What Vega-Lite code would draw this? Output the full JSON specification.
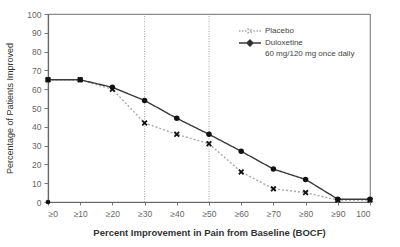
{
  "$schema": "https://vega.github.io/schema/vega-lite/v6.json",
  "autosize": "none",
  "width": 322,
  "height": 188,
  "padding": {"left": 48, "top": 14, "right": 30, "bottom": 45},
  "background": "white",
  "config": {
    "font": "Liberation Sans",
    "view": {"stroke": "#8a8a8a", "strokeWidth": 1.2},
    "axis": {
      "grid": false,
      "domainColor": "#666666",
      "domainWidth": 1.2,
      "tickColor": "#777777",
      "labelColor": "#666666",
      "labelFont": "Liberation Sans",
      "labelFontSize": 8.5,
      "titleFont": "Liberation Sans",
      "titleColor": "#333333"
    }
  },
  "datasets": {
    "improvement": [
      {"pct": 0, "series": "Placebo", "value": 65},
      {"pct": 10, "series": "Placebo", "value": 65},
      {"pct": 20, "series": "Placebo", "value": 60},
      {"pct": 30, "series": "Placebo", "value": 42},
      {"pct": 40, "series": "Placebo", "value": 36},
      {"pct": 50, "series": "Placebo", "value": 31},
      {"pct": 60, "series": "Placebo", "value": 16},
      {"pct": 70, "series": "Placebo", "value": 7},
      {"pct": 80, "series": "Placebo", "value": 5},
      {"pct": 90, "series": "Placebo", "value": 1},
      {"pct": 100, "series": "Placebo", "value": 1},
      {"pct": 0, "series": "Duloxetine", "value": 65},
      {"pct": 10, "series": "Duloxetine", "value": 65},
      {"pct": 20, "series": "Duloxetine", "value": 61},
      {"pct": 30, "series": "Duloxetine", "value": 54},
      {"pct": 40, "series": "Duloxetine", "value": 44.5},
      {"pct": 50, "series": "Duloxetine", "value": 36},
      {"pct": 60, "series": "Duloxetine", "value": 27},
      {"pct": 70, "series": "Duloxetine", "value": 17.5},
      {"pct": 80, "series": "Duloxetine", "value": 12},
      {"pct": 90, "series": "Duloxetine", "value": 1.5},
      {"pct": 100, "series": "Duloxetine", "value": 1.5}
    ],
    "origin": [{"pct": 0, "value": 0}],
    "thresholds": [{"pct": 30, "value": 0, "top": 100}, {"pct": 50, "value": 0, "top": 100}]
  },
  "encoding": {
    "x": {
      "field": "pct",
      "type": "quantitative",
      "scale": {"domain": [0, 100], "nice": false},
      "axis": {
        "values": [0, 10, 20, 30, 40, 50, 60, 70, 80, 90, 100],
        "labelExpr": "datum.value == 100 ? '100' : '≥' + datum.value",
        "tickSize": 3,
        "labelPadding": 4,
        "title": "Percent Improvement in Pain from Baseline (BOCF)",
        "titleFontSize": 9.5,
        "titleFontWeight": "bold",
        "titlePadding": 10
      }
    },
    "y": {
      "field": "value",
      "type": "quantitative",
      "scale": {"domain": [0, 100], "nice": false},
      "axis": {
        "values": [0, 10, 20, 30, 40, 50, 60, 70, 80, 90, 100],
        "labelOverlap": false,
        "tickSize": 4,
        "labelPadding": 3,
        "title": "Percentage of Patients Improved",
        "titleFontSize": 9,
        "titleFontWeight": "normal",
        "titlePadding": 12
      }
    }
  },
  "layer": [
    {
      "data": {"name": "thresholds"},
      "mark": {"type": "rule", "color": "#a5a5a5", "strokeWidth": 1, "strokeDash": [1, 1.5]},
      "encoding": {
        "y2": {"field": "top"}
      }
    },
    {
      "data": {"name": "improvement"},
      "mark": {"type": "line", "strokeWidth": 1.4},
      "encoding": {
        "color": {
          "field": "series",
          "type": "nominal",
          "scale": {"domain": ["Placebo", "Duloxetine"], "range": ["#a8a8a8", "#3a3a3a"]},
          "legend": {
            "orient": "none",
            "legendX": 196,
            "legendY": 11,
            "title": null,
            "padding": 0,
            "symbolSize": 100,
            "rowPadding": -1,
            "labelOffset": 9,
            "labelFont": "Liberation Sans",
            "labelFontSize": 8,
            "labelColor": "#444444",
            "labelBaseline": "top",
            "labelExpr": "datum.label == 'Duloxetine' ? ['Duloxetine', '60 mg/120 mg once daily'] : datum.label",
            "encode": {
              "labels": {
                "update": {
                  "dy": {"value": -4},
                  "lineHeight": {"value": 11}
                }
              },
              "symbols": {
                "update": {
                  "shape": {"signal": "datum.value == 'Placebo' ? 'M-2.2,0L-1.9,0M-1.6,0L-1.3,0M-1,0L-0.7,0M0.7,0L1,0M1.3,0L1.6,0M1.9,0L2.2,0M-0.5,-0.5L0.5,0.5M-0.5,0.5L0.5,-0.5' : 'M-2.2,0L2.2,0M0,-0.6L0.6,0L0,0.6L-0.6,0Z'"},
                  "fill": {"signal": "datum.value == 'Placebo' ? 'transparent' : '#111111'"},
                  "stroke": {"signal": "datum.value == 'Placebo' ? '#333333' : '#111111'"},
                  "strokeWidth": {"value": 1.5},
                  "strokeDash": {"value": []},
                  "opacity": {"value": 1}
                }
              }
            }
          }
        },
        "strokeDash": {
          "field": "series",
          "type": "nominal",
          "scale": {"domain": ["Placebo", "Duloxetine"], "range": [[2, 2], [1, 0]]},
          "legend": null
        }
      }
    },
    {
      "data": {"name": "improvement"},
      "transform": [{"filter": "datum.series == 'Placebo'"}],
      "mark": {
        "type": "point",
        "shape": "M-1,-1L1,1M-1,1L1,-1",
        "filled": false,
        "size": 22,
        "stroke": "#111111",
        "strokeWidth": 1.8,
        "opacity": 1
      },
      "encoding": {}
    },
    {
      "data": {"name": "improvement"},
      "transform": [{"filter": "datum.series == 'Duloxetine'"}],
      "mark": {
        "type": "point",
        "shape": "circle",
        "filled": true,
        "size": 30,
        "color": "#111111",
        "opacity": 1
      },
      "encoding": {}
    },
    {
      "data": {"name": "origin"},
      "mark": {"type": "point", "shape": "circle", "filled": true, "size": 22, "color": "#111111", "opacity": 1},
      "encoding": {}
    }
  ]
}
